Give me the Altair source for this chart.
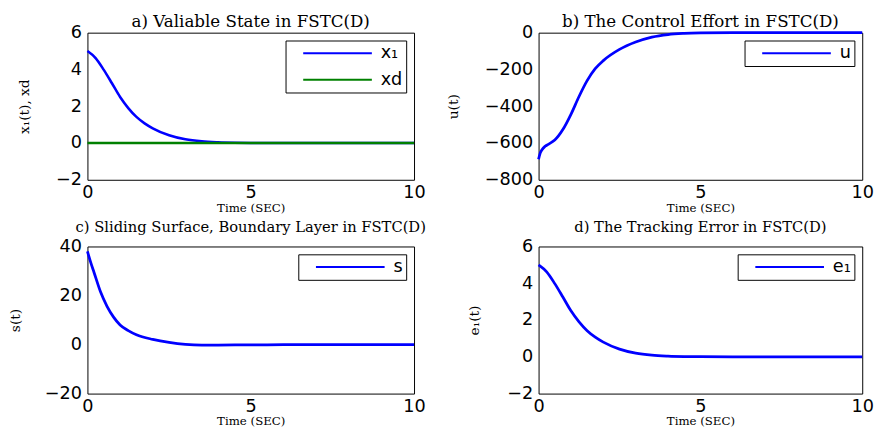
import altair as alt
import pandas as pd

# ---- data ----
t_x1 = [0, 0.25, 0.5, 0.75, 1, 1.25, 1.5, 1.75, 2, 2.5, 3, 3.5, 4, 4.5, 5, 6, 7, 8, 9, 10]
x1_vals = [5.0, 4.62, 3.98, 3.25, 2.5, 1.9, 1.42, 1.07, 0.80, 0.42, 0.20, 0.09, 0.04, 0.015, 0.005, 0, 0, 0, 0, 0]
t_xd = [0, 10]
xd_vals = [0, 0]

t_u = [0, 0.05, 0.1, 0.2, 0.3, 0.5, 0.75, 1, 1.25, 1.5, 1.75, 2, 2.5, 3, 3.5, 4, 4.5, 5, 6, 7, 8, 9, 10]
u_vals = [-688, -655, -638, -618, -607, -584, -527, -444, -347, -261, -196, -152, -91, -51, -24, -10, -4, -1.5, 0, 0, 0, 0, 0]

t_s = [0, 0.1, 0.2, 0.4, 0.6, 0.8, 1, 1.25, 1.5, 2, 2.5, 3, 3.5, 4, 5, 6, 7, 8, 9, 10]
s_vals = [38, 33.5, 29.5, 21.5, 15.6, 11.2, 8.0, 5.7, 4.0, 2.1, 0.85, 0.05, -0.25, -0.2, -0.15, -0.05, 0, 0, 0, 0]

t_e1 = [0, 0.25, 0.5, 0.75, 1, 1.25, 1.5, 1.75, 2, 2.5, 3, 3.5, 4, 4.5, 5, 6, 7, 8, 9, 10]
e1_vals = [5.0, 4.62, 3.98, 3.25, 2.5, 1.9, 1.42, 1.07, 0.80, 0.42, 0.20, 0.09, 0.04, 0.015, 0.005, 0, 0, 0, 0, 0]

x_ticks = [0, 5, 10]
ticks_a = [-2, 0, 2, 4, 6]
ticks_b = [-800, -600, -400, -200, 0]
ticks_c = [-20, 0, 20, 40]
ticks_d = [-2, 0, 2, 4, 6]

titles = ["a) Valiable State in FSTC(D)",
          "b) The Control Effort in FSTC(D)",
          "c) Sliding Surface, Boundary Layer in FSTC(D)",
          "d) The Tracking Error  in FSTC(D)"]

SANS = "DejaVu Sans"
SERIF = "DejaVu Serif"
BLUE = "#0000ff"
GREEN = "#008000"


def frame(ts, vs, name):
    return pd.DataFrame({"t": ts, "v": vs, "series": name})


def xenc():
    return alt.X("t:Q", scale=alt.Scale(domain=[0, 10], nice=False, zero=False),
                 axis=alt.Axis(values=x_ticks, title="Time (SEC)", labelFlush=False,
                               labelPadding=4, titlePadding=1, format="d"))


def yenc(dom, ticks, title, tpad):
    return alt.Y("v:Q", scale=alt.Scale(domain=dom, nice=False, zero=False),
                 axis=alt.Axis(values=ticks, title=title, titlePadding=tpad,
                               labelPadding=6, format="d"))


def legend(offset):
    return alt.Legend(orient="top-right", offset=offset, title=None,
                      strokeColor="black", fillColor="white", padding=3,
                      symbolType="stroke", symbolSize=4900, symbolStrokeWidth=2,
                      symbolOffset=14, labelOffset=8, labelFont=SANS,
                      labelFontSize=18, labelColor="black", clipHeight=20,
                      rowPadding=7)


def panel(df, names, colors, dom, ticks, title, ytitle, tpad, w, h, sw, toff, tsize):
    return alt.Chart(df).mark_line(interpolate="monotone", strokeWidth=sw).encode(
        x=xenc(),
        y=yenc(dom, ticks, ytitle, tpad),
        color=alt.Color("series:N", scale=alt.Scale(domain=names, range=colors),
                        legend=legend(8)),
        order=alt.Order("idx:Q"),
    ).properties(width=w, height=h,
                 title=alt.TitleParams(title, font=SERIF, fontSize=tsize,
                                       fontWeight="normal", color="black", offset=toff))


df_a = pd.concat([frame(t_x1, x1_vals, "x₁"), frame(t_xd, xd_vals, "xd")])
df_a["idx"] = range(len(df_a))
df_b = frame(t_u, u_vals, "u")
df_b["idx"] = range(len(df_b))
df_c = frame(t_s, s_vals, "s")
df_c["idx"] = range(len(df_c))
df_d = frame(t_e1, e1_vals, "e₁")
df_d["idx"] = range(len(df_d))

a = panel(df_a, ["x₁", "xd"], [BLUE, GREEN], [-2, 6], ticks_a, titles[0], "x₁(t), xd", 25, 333, 150, 2.6, -7, 17)
b = panel(df_b, ["u"], [BLUE], [-800, 0], ticks_b, titles[1], "u(t)", 24, 330, 150, 2.8, -7, 17)
c = panel(df_c, ["s"], [BLUE], [-20, 40], ticks_c, titles[2], "s(t)", 22, 333, 150, 2.8, 3, 15)
d = panel(df_d, ["e₁"], [BLUE], [-2, 6], ticks_d, titles[3], "e₁(t)", 26, 330, 150, 2.8, 3, 15)

chart = alt.concat(a, b, c, d, columns=2, spacing={"row": 68, "column": 127},
                   bounds="flush").resolve_scale(
    color="independent"
).properties(
    padding={"left": 0, "top": 0, "right": 0, "bottom": 0},
    background="white",
).configure_view(
    stroke="black", strokeWidth=1
).configure_axis(
    labelFont=SANS, labelFontSize=18, labelColor="black",
    titleFont=SERIF, titleFontSize=14, titleFontWeight="normal", titleColor="black",
    domain=False, ticks=False, grid=False,
).configure_axisX(
    titleFontSize=12
)

chart.save("out.html", embed_options={"renderer": "svg", "actions": False})
